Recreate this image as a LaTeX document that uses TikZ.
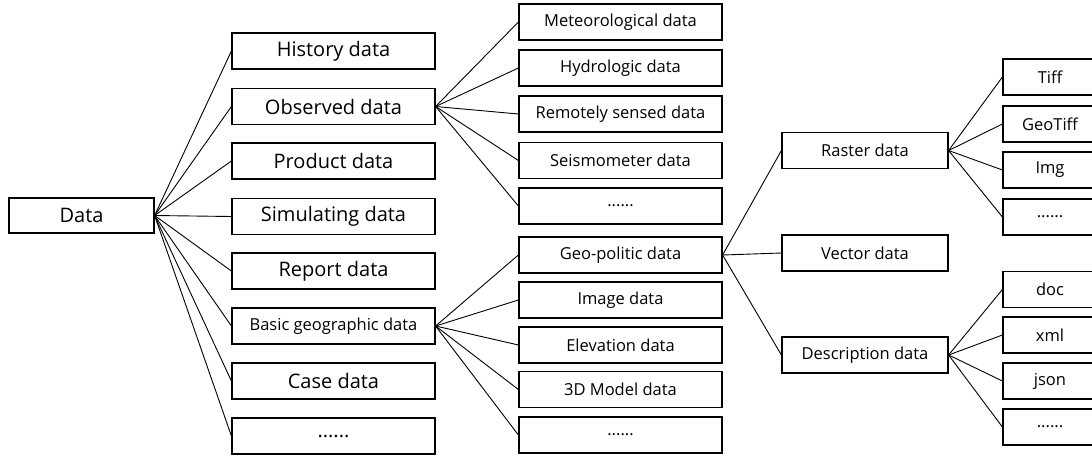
\documentclass[tikz,border=0pt]{standalone}
\usepackage{fontspec}
\setmainfont{Open Sans}
\begin{document}
\begin{tikzpicture}[x=1pt,y=-1pt,
  box/.style={draw=black, line width=1.2pt, inner sep=0pt, minimum height=36pt, fill=white},
  lone/.style={box, minimum width=203pt, font=\fontsize{20}{22}\selectfont},
  ltwo/.style={box, minimum width=203pt, font=\fontsize{16.5}{19}\selectfont},
  lthree/.style={box, minimum width=166pt, font=\fontsize{16.5}{19}\selectfont},
  lfour/.style={box, minimum width=94pt, font=\fontsize{16.5}{19}\selectfont},
  conn/.style={draw=black, line width=0.9pt}]
\useasboundingbox (0,0) rectangle (1092,458);
\clip (0,0) rectangle (1092,458);
\fill[white] (0,0) rectangle (1092,458);
% root
\node[box, minimum width=145pt, minimum height=35pt, font=\fontsize{20}{22}\selectfont] (data) at (81.5,215.5) {Data};
% level 1
\node[lone] (hist) at (333.5,51) {History data};
\node[lone] (obs) at (333.5,106.5) {Observed data};
\node[lone] (prod) at (333.5,161) {Product data};
\node[lone] (sim) at (333.5,216.5) {Simulating data};
\node[lone] (rep) at (333.5,271) {Report data};
\node[ltwo] (basic) at (333.5,326) {Basic geographic data};
\node[lone] (case) at (333.5,381) {Case data};
\node[lone] (dots1) at (333.5,436) {......};
% level 2
\node[ltwo] (met) at (620.5,22) {Meteorological data};
\node[ltwo] (hyd) at (620.5,68) {Hydrologic data};
\node[ltwo] (rem) at (620.5,114) {Remotely sensed data};
\node[ltwo] (seis) at (620.5,160.5) {Seismometer data};
\node[ltwo] (dots2) at (620.5,206) {......};
\node[ltwo] (geo) at (620.5,255) {Geo-politic data};
\node[ltwo] (img) at (620.5,300) {Image data};
\node[ltwo] (elev) at (620.5,345) {Elevation data};
\node[ltwo] (model) at (620.5,389.5) {3D Model data};
\node[ltwo] (dots3) at (620.5,435) {......};
% level 3
\node[lthree] (raster) at (865,150.5) {Raster data};
\node[lthree] (vector) at (865,253) {Vector data};
\node[lthree] (desc) at (865,355) {Description data};
% level 4
\node[lfour] (tiff) at (1050,77) {Tiff};
\node[lfour] (geotiff) at (1050,124) {GeoTiff};
\node[lfour] (imgf) at (1050,170) {Img};
\node[lfour] (dots4) at (1050,217) {......};
\node[lfour] (doc) at (1050,289.5) {doc};
\node[lfour] (xml) at (1050,335) {xml};
\node[lfour] (json) at (1050,381) {json};
\node[lfour] (dots5) at (1050,427) {......};
% connectors
\foreach \t in {hist,obs,prod,sim,rep,basic,case,dots1} \draw[conn] (data.east) -- (\t.west);
\foreach \t in {met,hyd,rem,seis,dots2} \draw[conn] (obs.east) -- (\t.west);
\foreach \t in {geo,img,elev,model,dots3} \draw[conn] (basic.east) -- (\t.west);
\foreach \t in {raster,vector,desc} \draw[conn] (geo.east) -- (\t.west);
\foreach \t in {tiff,geotiff,imgf,dots4} \draw[conn] (raster.east) -- (\t.west);
\foreach \t in {doc,xml,json,dots5} \draw[conn] (desc.east) -- (\t.west);
\end{tikzpicture}
\end{document}
